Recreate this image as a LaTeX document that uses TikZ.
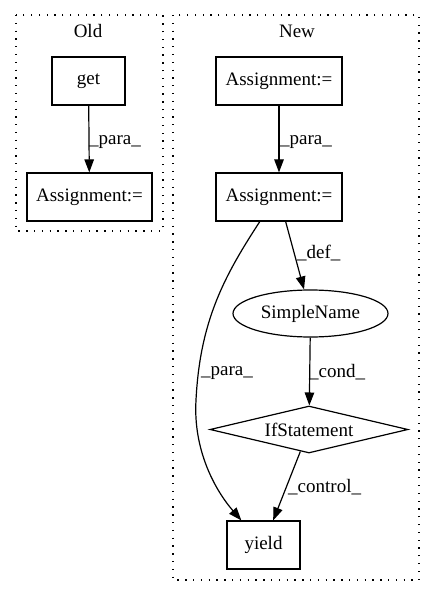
\documentclass[tikz,border=0pt]{standalone}
\usepackage{fontspec}
\setmainfont{Liberation Serif}
\usetikzlibrary{shapes.geometric,arrows.meta}
\begin{document}
\begin{tikzpicture}[x=1pt,y=-1pt,
  every node/.style={font=\fontsize{19}{22}\selectfont},
  box/.style={draw, line width=1.2pt, rectangle, inner sep=0pt, minimum height=48pt},
  ovalbox/.style={draw, line width=1.2pt, ellipse, inner sep=0pt},
  condbox/.style={draw, line width=1.2pt, diamond, aspect=4.2, inner sep=0pt},
  cluster/.style={line width=1.1pt, dash pattern=on 1.3pt off 6.5pt},
  edge/.style={line width=1.2pt, -{Triangle[length=13pt,width=9.5pt]}},
  lbl/.style={anchor=west, inner sep=0pt}]
\useasboundingbox (0,0) rectangle (435,596);
% Old cluster
\draw[cluster] (16,15) rectangle (163,231);
\node (oldlbl) at (88,31) {Old};
\node[box, minimum width=73pt] (get) at (88.5,81) {get};
\node[box, minimum width=125pt] (oa) at (89.5,197) {Assignment:=};
\draw[edge] (get) -- (oa);
\node[lbl] (l1) at (89,142) {\_para\_};
% New cluster
\draw[cluster] (173,15) rectangle (419,580);
\node (newlbl) at (297,31) {New};
\node[box, minimum width=126pt] (a1) at (279,81) {Assignment:=};
\node[box, minimum width=126pt] (a2) at (279,197) {Assignment:=};
\node[ovalbox, minimum width=155pt, minimum height=47pt] (sn) at (310.5,313.5) {SimpleName};
\node[condbox, minimum width=198pt, minimum height=47pt] (if) at (309,429.5) {IfStatement};
\node[box, minimum width=73pt] (yield) at (263.5,545) {yield};
\draw[edge] (a1) -- (a2);
\node[lbl] (l2) at (280,142) {\_para\_};
\draw[edge] (a2) -- (sn);
\node[lbl] (l3) at (297,253) {\_def\_};
\draw[edge] (sn) -- (if);
\node[lbl] (l4) at (309,372) {\_cond\_};
\draw[edge] (if) -- (yield);
\node[lbl] (l5) at (288,487) {\_control\_};
\draw[edge] (a2.232) .. controls (225,275) and (200,320) .. (196,400)
  .. controls (193,450) and (215,490) .. (yield.132);
\node[lbl] (l6) at (201,373) {\_para\_};
\end{tikzpicture}
\end{document}
